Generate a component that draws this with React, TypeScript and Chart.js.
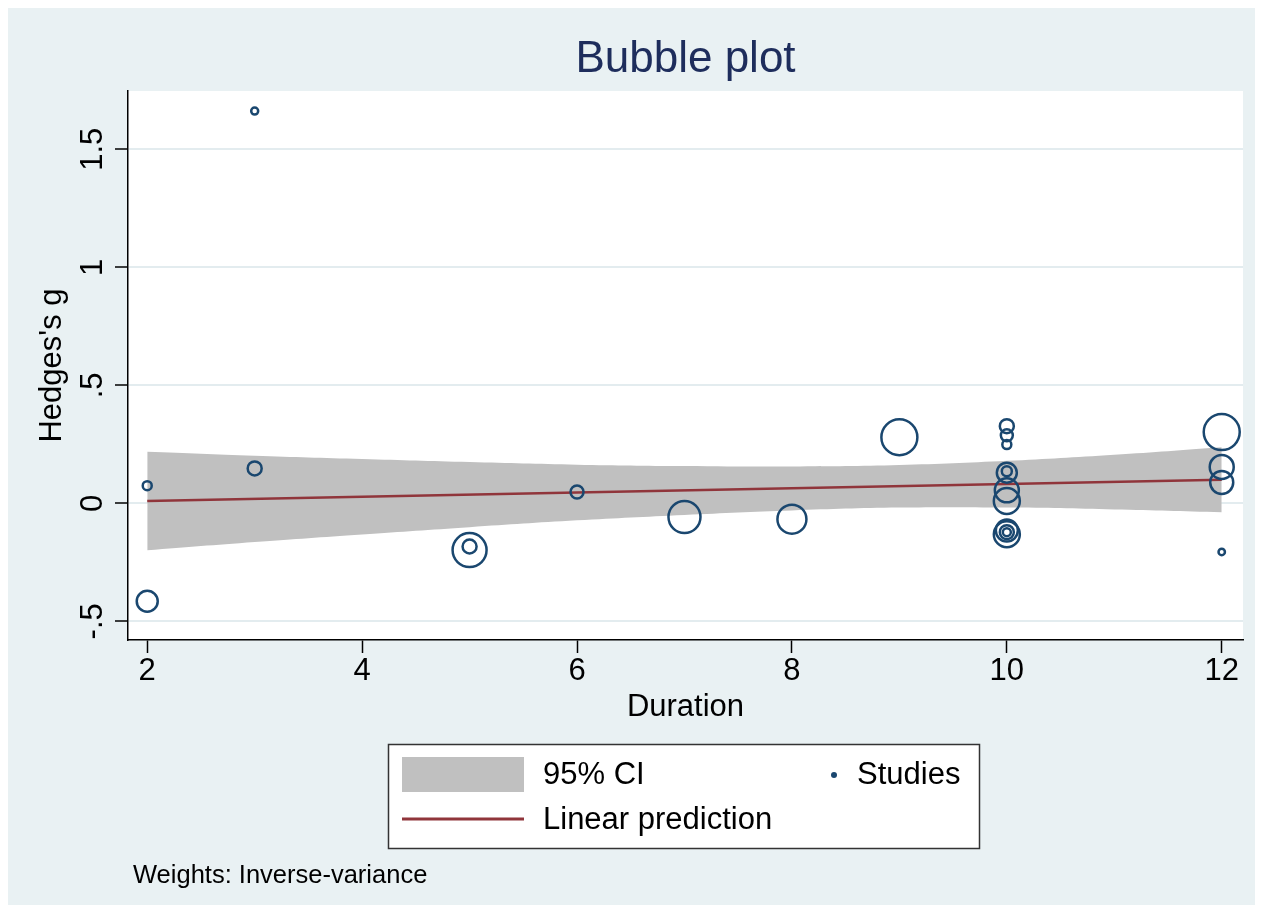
import React, { useEffect, useRef } from 'react';
import { Chart, registerables } from 'chart.js';

Chart.register(...registerables);

// ---- data ----
const studyDuration = [2, 2, 3, 3, 5, 5, 6, 7, 8, 9, 10, 10, 10, 10, 10, 10, 10, 10, 10, 10, 10, 12, 12, 12, 12];
const studyHedgesG = [0.075, -0.415, 1.662, 0.148, -0.198, -0.183, 0.048, -0.058, -0.067, 0.28, 0.327, 0.288, 0.249, 0.13, 0.136, 0.055, 0.01, -0.131, -0.115, -0.122, -0.122, 0.302, 0.154, 0.088, -0.206];
const studyBubbleRadius = [4.5, 10.5, 3.5, 7, 17, 7, 6.5, 16, 14.5, 18, 7, 6, 4.5, 10, 5, 12, 13, 13, 11, 7, 4, 18, 12, 11.5, 3.2];

const ciDuration = [2, 3, 4, 5, 6, 7, 8, 9, 10, 11, 12];
const ciUpper = [0.219, 0.202, 0.188, 0.175, 0.164, 0.158, 0.156, 0.162, 0.18, 0.206, 0.238];
const ciLower = [-0.199, -0.164, -0.132, -0.101, -0.072, -0.049, -0.03, -0.018, -0.018, -0.026, -0.038];

const fitDuration = [2, 12];
const fitPrediction = [0.01, 0.1];

const xTickValues = [2, 4, 6, 8, 10, 12];
const xTickLabels = ['2', '4', '6', '8', '10', '12'];
const yTickValues = [-0.5, 0, 0.5, 1, 1.5];
const yTickLabels = ['-.5', '0', '.5', '1', '1.5'];

const chartTitle = 'Bubble plot';
const xAxisTitle = 'Duration';
const yAxisTitle = "Hedges's g";
const legendCI = '95% CI';
const legendStudies = 'Studies';
const legendFit = 'Linear prediction';
const noteText = 'Weights: Inverse-variance';

// ---- styles ----
const FONT = "'Liberation Sans', Arial, Helvetica, sans-serif";
const BG = '#e9f1f3';
const GRID = '#e3ecef';
const NAVY = '#1a476f';
const MAROON = '#90353b';
const BAND = '#c0c0c0';

const decorPlugin = {
  id: 'decor',
  beforeDraw(chart: any) {
    const { ctx, chartArea: a, width, height } = chart;
    ctx.save();
    ctx.fillStyle = BG;
    ctx.fillRect(0, 0, width, height);
    ctx.fillStyle = '#ffffff';
    ctx.fillRect(a.left, a.top, a.right - a.left, a.bottom - a.top);
    ctx.restore();
  },
  afterDraw(chart: any) {
    const { ctx, chartArea: a } = chart;
    ctx.save();
    // title
    ctx.fillStyle = '#1e2d5c';
    ctx.font = `44px ${FONT}`;
    ctx.textAlign = 'center';
    ctx.textBaseline = 'alphabetic';
    ctx.fillText(chartTitle, (a.left + a.right) / 2, 64);

    // legend box
    const bx = 380.5, by = 736.5, bw = 591, bh = 104;
    ctx.fillStyle = '#ffffff';
    ctx.fillRect(bx, by, bw, bh);
    ctx.strokeStyle = '#333333';
    ctx.lineWidth = 1.5;
    ctx.strokeRect(bx, by, bw, bh);

    ctx.fillStyle = BAND;
    ctx.fillRect(394, 749, 122, 35);

    ctx.strokeStyle = MAROON;
    ctx.lineWidth = 3;
    ctx.beginPath();
    ctx.moveTo(394, 811);
    ctx.lineTo(516, 811);
    ctx.stroke();

    ctx.fillStyle = NAVY;
    ctx.beginPath();
    ctx.arc(826, 767, 3, 0, Math.PI * 2);
    ctx.fill();

    ctx.fillStyle = '#000000';
    ctx.font = `31px ${FONT}`;
    ctx.textAlign = 'left';
    ctx.textBaseline = 'middle';
    ctx.fillText(legendCI, 535, 767);
    ctx.fillText(legendStudies, 849, 767);
    ctx.fillText(legendFit, 535, 812);

    // note
    ctx.font = `25.5px ${FONT}`;
    ctx.fillText(noteText, 125, 868);
    ctx.restore();
  },
};

export default function App() {
  const canvasRef = useRef<HTMLCanvasElement | null>(null);

  useEffect(() => {
    if (!canvasRef.current) return;
    const bubbles = studyDuration.map((x, i) => ({ x, y: studyHedgesG[i], r: studyBubbleRadius[i] }));
    const fit = fitDuration.map((x, i) => ({ x, y: fitPrediction[i] }));
    const upper = ciDuration.map((x, i) => ({ x, y: ciUpper[i] }));
    const lower = ciDuration.map((x, i) => ({ x, y: ciLower[i] }));

    const chart = new Chart(canvasRef.current, {
      type: 'bubble',
      data: {
        datasets: [
          {
            type: 'bubble',
            label: legendStudies,
            data: bubbles,
            backgroundColor: 'rgba(0,0,0,0)',
            borderColor: NAVY,
            borderWidth: 2.5,
            clip: false,
          } as any,
          {
            type: 'line',
            label: legendFit,
            data: fit,
            borderColor: MAROON,
            borderWidth: 2.5,
            pointRadius: 0,
            fill: false,
          } as any,
          {
            type: 'line',
            label: 'upper',
            data: upper,
            borderWidth: 0,
            borderColor: 'rgba(0,0,0,0)',
            backgroundColor: BAND,
            pointRadius: 0,
            tension: 0.4,
            fill: '+1',
          } as any,
          {
            type: 'line',
            label: 'lower',
            data: lower,
            borderWidth: 0,
            borderColor: 'rgba(0,0,0,0)',
            pointRadius: 0,
            tension: 0.4,
            fill: false,
          } as any,
        ],
      },
      options: {
        responsive: false,
        animation: false,
        events: [],
        layout: { autoPadding: false, padding: { top: 83, right: 12, left: 0, bottom: 165 } },
        plugins: {
          legend: { display: false },
          title: { display: false },
          tooltip: { enabled: false },
        },
        scales: {
          x: {
            type: 'linear',
            min: 1.821,
            max: 12.198,
            afterBuildTicks: (s: any) => {
              s.ticks = xTickValues.map((v) => ({ value: v }));
            },
            afterFit: (s: any) => {
              s.height = 100;
            },
            ticks: {
              padding: 0,
              color: '#000',
              font: { family: FONT, size: 31 },
              callback: (_v: any, i: number) => xTickLabels[i],
              maxRotation: 0,
              minRotation: 0,
              autoSkip: false,
            },
            grid: {
              drawOnChartArea: false,
              drawTicks: true,
              tickLength: 13,
              tickColor: '#000',
              tickWidth: 1.5,
            },
            border: { display: true, color: '#000', width: 1.5 },
            title: {
              display: true,
              text: xAxisTitle,
              color: '#000',
              font: { family: FONT, size: 31 },
              padding: { top: 0, bottom: 13.5 },
            },
          },
          y: {
            type: 'linear',
            min: -0.579,
            max: 1.747,
            afterBuildTicks: (s: any) => {
              s.ticks = yTickValues.map((v) => ({ value: v }));
            },
            afterFit: (s: any) => {
              s.width = 120;
            },
            ticks: {
              padding: 0,
              color: '#000',
              font: { family: FONT, size: 31 },
              callback: (_v: any, i: number) => yTickLabels[i],
              minRotation: 90,
              maxRotation: 90,
              crossAlign: 'center',
              autoSkip: false,
            },
            grid: {
              drawOnChartArea: true,
              color: GRID,
              lineWidth: 2,
              drawTicks: true,
              tickLength: 13,
              tickColor: '#000',
              tickWidth: 1.5,
            },
            border: { display: true, color: '#000', width: 1.5 },
            title: {
              display: true,
              text: yAxisTitle,
              color: '#000',
              font: { family: FONT, size: 31 },
              padding: { top: 26, bottom: 0 },
            },
          },
        },
      } as any,
      plugins: [decorPlugin],
    });

    return () => chart.destroy();
  }, []);

  return (
    <div style={{ width: 1247, height: 897 }}>
      <canvas ref={canvasRef} width={1247} height={897} style={{ display: 'block' }} />
    </div>
  );
}
